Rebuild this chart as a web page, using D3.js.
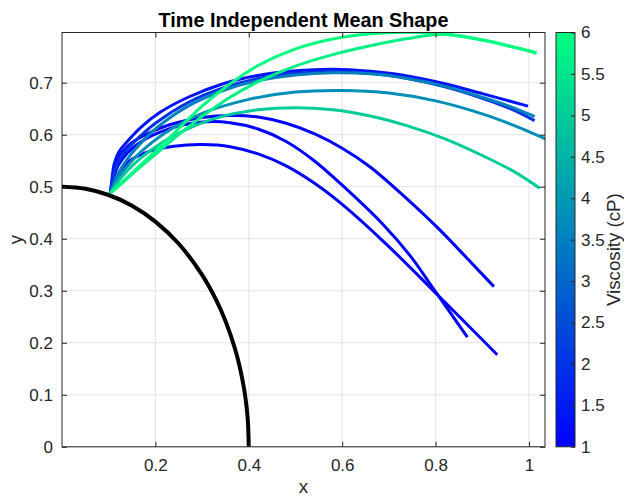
<!DOCTYPE html>
<html><head><meta charset="utf-8">
<script src="https://cdn.jsdelivr.net/npm/d3@7"></script>
<style>body{margin:0;background:#fff}svg{display:block}text{font-family:"Liberation Sans",Arial,sans-serif}</style>
</head><body><svg id="c" width="624" height="497"></svg>
<script>
const xTicks = [0.2, 0.4, 0.6, 0.8, 1];
const yTicks = [0, 0.1, 0.2, 0.3, 0.4, 0.5, 0.6, 0.7];
const cTicks = [1, 1.5, 2, 2.5, 3, 3.5, 4, 4.5, 5, 5.5, 6];
const viscosities = [1, 1, 1, 1.4, 2, 3.5, 3.8, 5, 5.7, 6];
const bodyX = [0, 0.05, 0.1, 0.15, 0.2, 0.25, 0.3, 0.33, 0.35, 0.37, 0.38, 0.39, 0.395, 0.398, 0.4];
const bodyY = [0.5, 0.4961, 0.4841, 0.4635, 0.433, 0.3903, 0.3307, 0.2826, 0.2421, 0.19, 0.1561, 0.1111, 0.0788, 0.0499, 0];
const shapeJ = [[0.104,0.488],[0.115,0.515],[0.13,0.537],[0.15,0.553],[0.19,0.569],[0.24,0.578],[0.3,0.581],[0.36,0.577],[0.42,0.563],[0.48,0.54],[0.54,0.507],[0.6,0.466],[0.687,0.396],[0.8,0.296],[0.932,0.177]];
const shapeI = [[0.104,0.488],[0.11,0.515],[0.12,0.54],[0.14,0.565],[0.17,0.587],[0.21,0.605],[0.26,0.619],[0.31,0.625],[0.36,0.623],[0.42,0.611],[0.48,0.587],[0.54,0.55],[0.6,0.503],[0.687,0.428],[0.745,0.368],[0.8,0.298],[0.868,0.211]];
const shapeH = [[0.104,0.488],[0.108,0.515],[0.115,0.54],[0.128,0.565],[0.15,0.585],[0.2,0.609],[0.25,0.624],[0.3,0.633],[0.36,0.637],[0.42,0.634],[0.48,0.622],[0.54,0.602],[0.6,0.574],[0.66,0.538],[0.737,0.478],[0.809,0.417],[0.87,0.36],[0.925,0.308]];
const shapeC = [[0.104,0.488],[0.107,0.515],[0.112,0.545],[0.122,0.567],[0.138,0.585],[0.17,0.615],[0.21,0.643],[0.27,0.672],[0.345,0.698],[0.42,0.714],[0.5,0.723],[0.58,0.726],[0.66,0.722],[0.74,0.713],[0.82,0.698],[0.9,0.679],[0.998,0.655]];
const shapeE = [[0.104,0.488],[0.109,0.515],[0.117,0.54],[0.13,0.562],[0.15,0.582],[0.2,0.622],[0.27,0.662],[0.345,0.69],[0.42,0.708],[0.5,0.718],[0.58,0.721],[0.66,0.718],[0.74,0.708],[0.82,0.692],[0.9,0.67],[0.96,0.65],[1.012,0.627]];
const shapeD = [[0.104,0.488],[0.115,0.515],[0.13,0.54],[0.15,0.565],[0.2,0.611],[0.27,0.655],[0.345,0.685],[0.42,0.704],[0.5,0.715],[0.58,0.719],[0.66,0.717],[0.74,0.708],[0.82,0.693],[0.9,0.672],[0.96,0.654],[1.012,0.635]];
const shapeF = [[0.104,0.488],[0.12,0.515],[0.14,0.54],[0.17,0.568],[0.22,0.603],[0.3,0.641],[0.4,0.668],[0.5,0.682],[0.6,0.685],[0.7,0.68],[0.8,0.665],[0.9,0.64],[0.97,0.617],[1.04,0.59]];
const shapeG = [[0.104,0.488],[0.125,0.515],[0.15,0.54],[0.19,0.57],[0.25,0.603],[0.33,0.632],[0.42,0.648],[0.5,0.652],[0.58,0.648],[0.66,0.636],[0.74,0.617],[0.82,0.592],[0.9,0.56],[0.97,0.528],[1.023,0.497]];
const shapeB = [[0.104,0.488],[0.13,0.508],[0.16,0.532],[0.2,0.562],[0.25,0.6],[0.3,0.635],[0.36,0.672],[0.42,0.702],[0.5,0.732],[0.58,0.754],[0.66,0.771],[0.74,0.785],[0.82,0.793],[0.9,0.782],[0.96,0.77],[1.016,0.757]];
const shapeA = [[0.104,0.488],[0.13,0.51],[0.16,0.535],[0.2,0.568],[0.25,0.612],[0.3,0.655],[0.36,0.698],[0.42,0.733],[0.5,0.765],[0.58,0.784],[0.66,0.794],[0.74,0.797],[0.82,0.793],[0.9,0.782],[0.96,0.77],[1.016,0.757]];
const shapes = [shapeJ, shapeI, shapeH, shapeC, shapeE, shapeD, shapeF, shapeG, shapeB, shapeA];

const svg = d3.select("#c");
const L = 62, R = 545, T = 32.5, B = 446.8;
const x = d3.scaleLinear().domain([0, 1.0343]).range([L, R]);
const y = d3.scaleLinear().domain([0, 0.7965]).range([B, T]);
const cb = {x0: 556, x1: 575};
const cy = d3.scaleLinear().domain([1, 6]).range([B, T]);
const winter = v => { const t = (v - 1) / 5; return d3.rgb(0, Math.round(255 * t), Math.round(255 * (1 - 0.5 * t))).toString(); };
const axisCol = "#262626";
const tickFont = 17;

// grid
const g = svg.append("g");
g.selectAll(".gx").data(xTicks).join("line").attr("x1", d => x(d)).attr("x2", d => x(d)).attr("y1", T).attr("y2", B).attr("stroke", "#e3e3e3").attr("stroke-width", 1);
g.selectAll(".gy").data(yTicks).join("line").attr("y1", d => y(d)).attr("y2", d => y(d)).attr("x1", L).attr("x2", R).attr("stroke", "#e3e3e3").attr("stroke-width", 1);

// clip
svg.append("clipPath").attr("id", "clip").append("rect").attr("x", L).attr("y", T).attr("width", R - L).attr("height", B - T);
const plot = svg.append("g").attr("clip-path", "url(#clip)");
const line = d3.line().x(d => x(d[0])).y(d => y(d[1])).curve(d3.curveCatmullRom.alpha(0.5));
plot.append("path").datum(d3.zip(bodyX, bodyY)).attr("d", line).attr("fill", "none").attr("stroke", "#000").attr("stroke-width", 4);
plot.selectAll(".s").data(shapes).join("path").attr("d", line).attr("fill", "none")
  .attr("stroke", (d, i) => winter(viscosities[i])).attr("stroke-width", 3).attr("stroke-linejoin", "round");

// axes (ticks inward on all sides)
const axB = d3.axisBottom(x).tickValues(xTicks).tickSize(-5).tickPadding(12.5).tickFormat(d3.format("~g"));
const axT = d3.axisTop(x).tickValues(xTicks).tickSize(-5).tickFormat("");
const axLf = d3.axisLeft(y).tickValues(yTicks).tickSize(-5).tickPadding(9).tickFormat(d3.format("~g"));
const axRt = d3.axisRight(y).tickValues(yTicks).tickSize(-5).tickFormat("");
function style(sel) { sel.select(".domain").remove(); sel.selectAll("line").attr("stroke", axisCol); sel.selectAll("text").attr("fill", axisCol).attr("font-size", tickFont); }
svg.append("g").attr("transform", `translate(0,${B})`).call(axB).call(style);
svg.append("g").attr("transform", `translate(0,${T})`).call(axT).call(style);
svg.append("g").attr("transform", `translate(${L},0)`).call(axLf).call(style);
svg.append("g").attr("transform", `translate(${R},0)`).call(axRt).call(style);
svg.append("rect").attr("x", L).attr("y", T).attr("width", R - L).attr("height", B - T).attr("fill", "none").attr("stroke", axisCol).attr("stroke-width", 1);

// title & labels
svg.append("text").attr("x", (L + R) / 2).attr("y", 27).attr("text-anchor", "middle").attr("font-weight", "bold").attr("font-size", 19.8).attr("fill", "#000").text("Time Independent Mean Shape");
svg.append("text").attr("x", (L + R) / 2).attr("y", 493).attr("text-anchor", "middle").attr("font-size", 18.7).attr("fill", axisCol).text("x");
svg.append("text").attr("transform", `translate(21.5,${(T + B) / 2}) rotate(-90)`).attr("text-anchor", "middle").attr("font-size", 18.7).attr("fill", axisCol).text("y");

// colorbar
const defs = svg.append("defs");
const grad = defs.append("linearGradient").attr("id", "cbg").attr("x1", 0).attr("y1", 1).attr("x2", 0).attr("y2", 0);
d3.range(0, 1.0001, 0.1).forEach(t => grad.append("stop").attr("offset", t).attr("stop-color", winter(1 + 5 * t)));
svg.append("rect").attr("x", cb.x0).attr("y", T).attr("width", cb.x1 - cb.x0).attr("height", B - T).attr("fill", "url(#cbg)");
const axC = d3.axisRight(cy).tickValues(cTicks).tickSize(-4).tickPadding(6).tickFormat(d3.format("~g"));
svg.append("g").attr("transform", `translate(${cb.x1},0)`).call(axC).call(style);
svg.append("rect").attr("x", cb.x0).attr("y", T).attr("width", cb.x1 - cb.x0).attr("height", B - T).attr("fill", "none").attr("stroke", axisCol).attr("stroke-width", 1);
svg.append("text").attr("transform", `translate(620,${(T + B) / 2 + 10}) rotate(-90)`).attr("text-anchor", "middle").attr("font-size", 18.7).attr("fill", axisCol).text("Viscosity (cP)");
</script></body></html>
